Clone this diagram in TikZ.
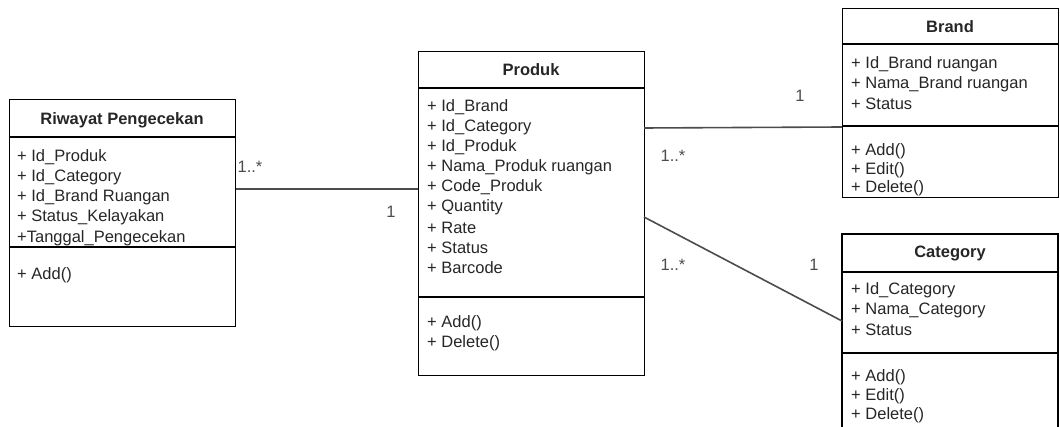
\documentclass[tikz,border=0pt]{standalone}
\usepackage{fontspec}
\setmainfont{Liberation Sans}
\begin{document}
\begin{tikzpicture}[x=1pt,y=-1pt,
  classbox/.style={draw=black, line width=1.3pt, anchor=north west, inner sep=0pt},
  sepline/.style={draw=black, line width=1.3pt},
  ttl/.style={font=\fontsize{16.5}{20}\selectfont\bfseries, text=black!85, inner sep=0pt},
  item/.style={anchor=west, font=\fontsize{16.5}{20}\selectfont, text=black!85, inner sep=0pt},
  conn/.style={draw=black!70, line width=1.6pt},
  mult/.style={font=\fontsize{16.5}{20}\selectfont, text=black!70, inner sep=0pt}]
\useasboundingbox (0,0) rectangle (1060,427);
% Riwayat Pengecekan
\node[classbox, minimum width=226pt, minimum height=227pt] (riw) at (9,99) {};
\draw[sepline] ([yshift=-38pt]riw.north west) -- ([yshift=-38pt]riw.north east);
\draw[sepline] ([yshift=-148pt]riw.north west) -- ([yshift=-148pt]riw.north east);
\node[ttl] (riwt) at (122,120) {Riwayat Pengecekan};
\foreach \t [count=\i] in {+ Id\_Produk, + Id\_Category, + Id\_Brand Ruangan, + Status\_Kelayakan, +Tanggal\_Pengecekan}
  \node[item] (ra\i) at (17,{157+20.2*(\i-1)}) {\t};
\node[item] (rm1) at (17,275) {+ Add()};
% Produk
\node[classbox, minimum width=226pt, minimum height=324pt] (prod) at (418,51) {};
\draw[sepline] ([yshift=-37pt]prod.north west) -- ([yshift=-37pt]prod.north east);
\draw[sepline] ([yshift=-246pt]prod.north west) -- ([yshift=-246pt]prod.north east);
\node[ttl] (prodt) at (531,70) {Produk};
\foreach \t [count=\i] in {+ Id\_Brand, + Id\_Category, + Id\_Produk, + Nama\_Produk ruangan, + Code\_Produk, + Quantity, + Rate, + Status, + Barcode}
  \node[item] (pa\i) at (427,{107+20.1*(\i-1)}) {\t};
\node[item] (pm1) at (427,323) {+ Add()};
\node[item] (pm2) at (427,343) {+ Delete()};
% Brand
\node[classbox, minimum width=216pt, minimum height=189pt] (brand) at (842,8) {};
\draw[sepline] ([yshift=-36pt]brand.north west) -- ([yshift=-36pt]brand.north east);
\draw[sepline] ([yshift=-118pt]brand.north west) -- ([yshift=-118pt]brand.north east);
\node[ttl] (brandt) at (950,27) {Brand};
\foreach \t [count=\i] in {+ Id\_Brand ruangan, + Nama\_Brand ruangan, + Status}
  \node[item] (ba\i) at (851,{64+20*(\i-1)}) {\t};
\foreach \t [count=\i] in {+ Add(), + Edit(), + Delete()}
  \node[item] (bm\i) at (851,{151+18.8*(\i-1)}) {\t};
% Category (cut off at the bottom)
\coordinate (cnw) at (842,234);
\coordinate (cne) at (1058,234);
\draw[sepline] (842,428) -- (cnw) -- (cne) -- (1058,428);
\draw[sepline] (842,272) -- (1058,272);
\draw[sepline] (842,353) -- (1058,353);
\node[ttl] (catt) at (950,253) {Category};
\foreach \t [count=\i] in {+ Id\_Category, + Nama\_Category, + Status}
  \node[item] (ca\i) at (851,{290+20*(\i-1)}) {\t};
\foreach \t [count=\i] in {+ Add(), + Edit(), + Delete()}
  \node[item] (cm\i) at (851,{377+19*(\i-1)}) {\t};
% connectors
\coordinate (pr) at (418,189);
\coordinate (pb) at (644,128);
\coordinate (pc) at (644,217);
\coordinate (cw) at (842,321);
\draw[conn] (riw.east |- pr) -- (pr);
\draw[conn] (pb) -- (brand.west |- 0,127);
\draw[conn] (pc) -- (cw);
% multiplicities
\node[mult] (m1) at (250,167) {1..*};
\node[mult] (m2) at (391,212) {1};
\node[mult] (m3) at (800,96) {1};
\node[mult] (m4) at (673,156) {1..*};
\node[mult] (m5) at (673,265) {1..*};
\node[mult] (m6) at (814,265) {1};
\end{tikzpicture}
\end{document}
